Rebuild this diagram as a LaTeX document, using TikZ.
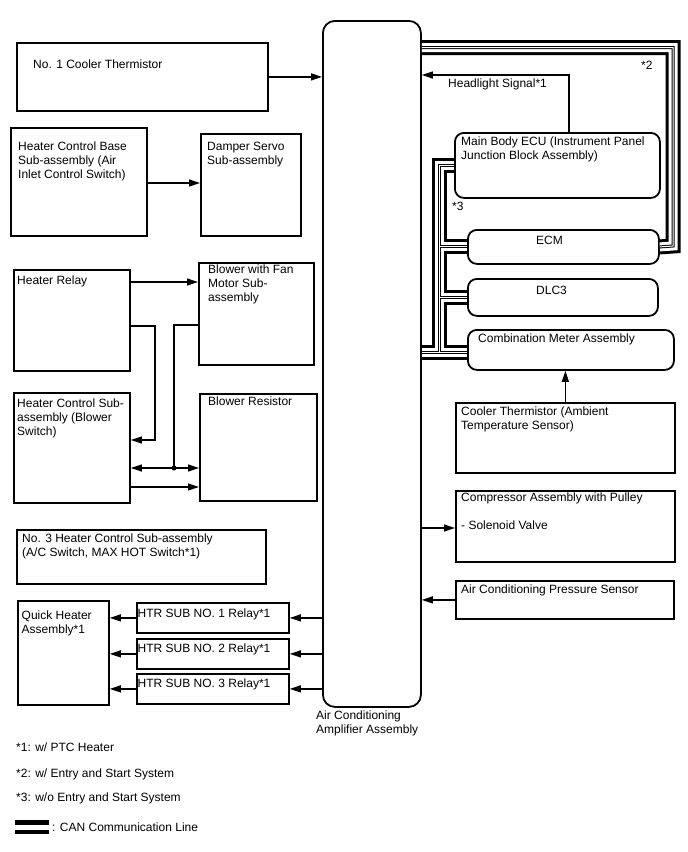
\documentclass[tikz,border=0pt]{standalone}
\usepackage{fontspec}
\setmainfont{Liberation Sans}
\usetikzlibrary{arrows.meta}

\begin{document}
\begin{tikzpicture}[x=1pt, y=-1pt,
  box/.style={draw, line width=1.8pt, anchor=north west, inner sep=0pt},
  rbox/.style={box, rounded corners=9pt},
  txt/.style={anchor=north west, inner sep=0pt, align=left, font=\fontsize{12}{14}\selectfont},
  wire/.style={line width=1.3pt},
  arr/.style={wire, -{Triangle[length=11pt,width=7pt]}},
  dblarr/.style={wire, {Triangle[length=11pt,width=7pt]}-{Triangle[length=11pt,width=7pt]}}]
  \useasboundingbox (0,0) rectangle (688,852);

  % amplifier in the middle
  \node[rbox, rounded corners=12pt, minimum width=98pt, minimum height=686pt] (amp) at (322,20) {};
  \node[txt] (t-amp) at (316,711) {Air Conditioning\\Amplifier Assembly};

  % left column
  \node[box, minimum width=251pt, minimum height=68pt] (cool1) at (16,42) {};
  \node[box, minimum width=136pt, minimum height=108pt] (hcb) at (10,127) {};
  \node[box, minimum width=100pt, minimum height=102pt] (damper) at (200,133) {};
  \node[box, minimum width=116pt, minimum height=101pt] (relay) at (13,269) {};
  \node[box, minimum width=115pt, minimum height=102pt] (blower) at (198,262) {};
  \node[box, minimum width=116pt, minimum height=110pt] (hcs) at (13,392) {};
  \node[box, minimum width=117pt, minimum height=107pt] (resistor) at (199,393) {};
  \node[box, minimum width=249pt, minimum height=54pt] (hc3) at (16,529) {};
  \node[box, minimum width=91pt, minimum height=104pt] (quick) at (17,600) {};
  \node[box, minimum width=152pt, minimum height=30pt] (htr1) at (136,602) {};
  \node[box, minimum width=152pt, minimum height=30pt] (htr2) at (136,638) {};
  \node[box, minimum width=152pt, minimum height=30pt] (htr3) at (136,673) {};

  \node[txt] (t-cool1) at (33,59.5) {No. 1 Cooler Thermistor};
  \node[txt] (t-hcb) at (18,142) {Heater Control Base\\Sub-assembly (Air\\Inlet Control Switch)};
  \node[txt] (t-damper) at (207,142) {Damper Servo\\Sub-assembly};
  \node[txt] (t-relay) at (17,276) {Heater Relay};
  \node[txt] (t-blower) at (208,265) {Blower with Fan\\Motor Sub-\\assembly};
  \node[txt] (t-hcs) at (17,399) {Heater Control Sub-\\assembly (Blower\\Switch)};
  \node[txt] (t-resistor) at (208,397) {Blower Resistor};
  \node[txt] (t-hc3) at (22,533.5) {No. 3 Heater Control Sub-assembly\\(A/C Switch, MAX HOT Switch*1)};
  \node[txt] (t-quick) at (21.5,610.5) {Quick Heater\\Assembly*1};
  \node[txt] (t-htr1) at (137.5,609) {HTR SUB NO. 1 Relay*1};
  \node[txt] (t-htr2) at (137.5,644) {HTR SUB NO. 2 Relay*1};
  \node[txt] (t-htr3) at (137.5,679) {HTR SUB NO. 3 Relay*1};

  % right column
  \node[rbox, minimum width=205pt, minimum height=65pt] (ecu) at (454,132) {};
  \node[rbox, minimum width=191pt, minimum height=34pt] (ecm) at (467,229) {};
  \node[rbox, minimum width=190pt, minimum height=37pt] (dlc) at (467,278) {};
  \node[rbox, minimum width=206pt, minimum height=40pt] (comb) at (467,329) {};
  \node[box, minimum width=219pt, minimum height=70pt] (ambient) at (455,402) {};
  \node[box, minimum width=219pt, minimum height=71pt] (comp) at (455,490) {};
  \node[box, minimum width=218pt, minimum height=38pt] (press) at (455,580) {};

  \node[txt] (t-head) at (448,79) {Headlight Signal*1};
  \node[txt] (t-star2) at (641,61) {*2};
  \node[txt] (t-ecu) at (461,137) {Main Body ECU (Instrument Panel\\Junction Block Assembly)};
  \node[txt] (t-star3) at (452,202) {*3};
  \node[txt] (t-ecm) at (536,236) {ECM};
  \node[txt] (t-dlc) at (536,286) {DLC3};
  \node[txt] (t-comb) at (478,334) {Combination Meter Assembly};
  \node[txt] (t-ambient) at (461,407) {Cooler Thermistor (Ambient\\Temperature Sensor)};
  \node[txt] (t-comp) at (461,493) {Compressor Assembly with Pulley\\[14pt]- Solenoid Valve};
  \node[txt] (t-press) at (461,585) {Air Conditioning Pressure Sensor};

  % signal lines
  \coordinate (jn) at (174,468);
  \draw[arr] (cool1.east) -- (cool1.east -| amp.west);
  \draw[arr] (hcb.east |- 0,183) -- (damper.west |- 0,183);
  \draw[arr] (relay.east |- 0,282) -- (blower.west |- 0,282);
  \draw[arr] (relay.east |- 0,326) -| (155,440) -- (hcs.east |- 0,440);
  \draw[wire] (blower.west |- 0,325) -| (jn);
  \fill (jn) circle (2.5pt);
  \draw[dblarr] (hcs.east |- jn) -- (resistor.west |- jn);
  \draw[arr] (hcs.east |- 0,487) -- (resistor.west |- 0,487);
  \foreach \r in {htr1,htr2,htr3} {
    \draw[arr] (amp.west |- \r) -- (\r.east);
    \draw[arr] (\r.west) -- (\r.west -| quick.east);
  }
  \draw[arr] (569,0 |- ecu.north) -- (569,75) -- (amp.east |- 0,75);
  \draw[arr] (ambient.north) -- (ambient.north |- comb.south);
  \draw[arr] (amp.east |- 0,528) -- (comp.west |- 0,528);
  \draw[arr] (press.west) -- (press.west -| amp.east);

  % CAN lines
  \foreach \lw/\lc in {15/black,9/white,3/black,1/white} {
    \draw[line width=\lw pt, draw=\lc] (amp.east |- 0,47.5) -| (673,246) -- (ecm.east);
    \draw[line width=\lw pt, draw=\lc] (ecu.west) -| (439,352);
    \draw[line width=\lw pt, draw=\lc] (ecm.west) -- (ecm.west -| 439,0);
    \draw[line width=\lw pt, draw=\lc] (dlc.west) -- (dlc.west -| 439,0);
    \draw[line width=\lw pt, draw=\lc] (amp.east |- 0,352) -- (comb.west |- 0,352);
  }

  % notes
  \node[txt] (n1) at (16,742.5) {*1: w/ PTC Heater};
  \node[txt] (n2) at (16,768.5) {*2: w/ Entry and Start System};
  \node[txt] (n3) at (16,792.5) {*3: w/o Entry and Start System};
  \coordinate (leg-a) at (15,827);
  \coordinate (leg-b) at (49,827);
  \foreach \lw/\lc in {14/black,5/white}
    \draw[line width=\lw pt, draw=\lc] (leg-a) -- (leg-b);
  \node[txt] (n4) at (52,822.5) {: CAN Communication Line};
\end{tikzpicture}
\end{document}
